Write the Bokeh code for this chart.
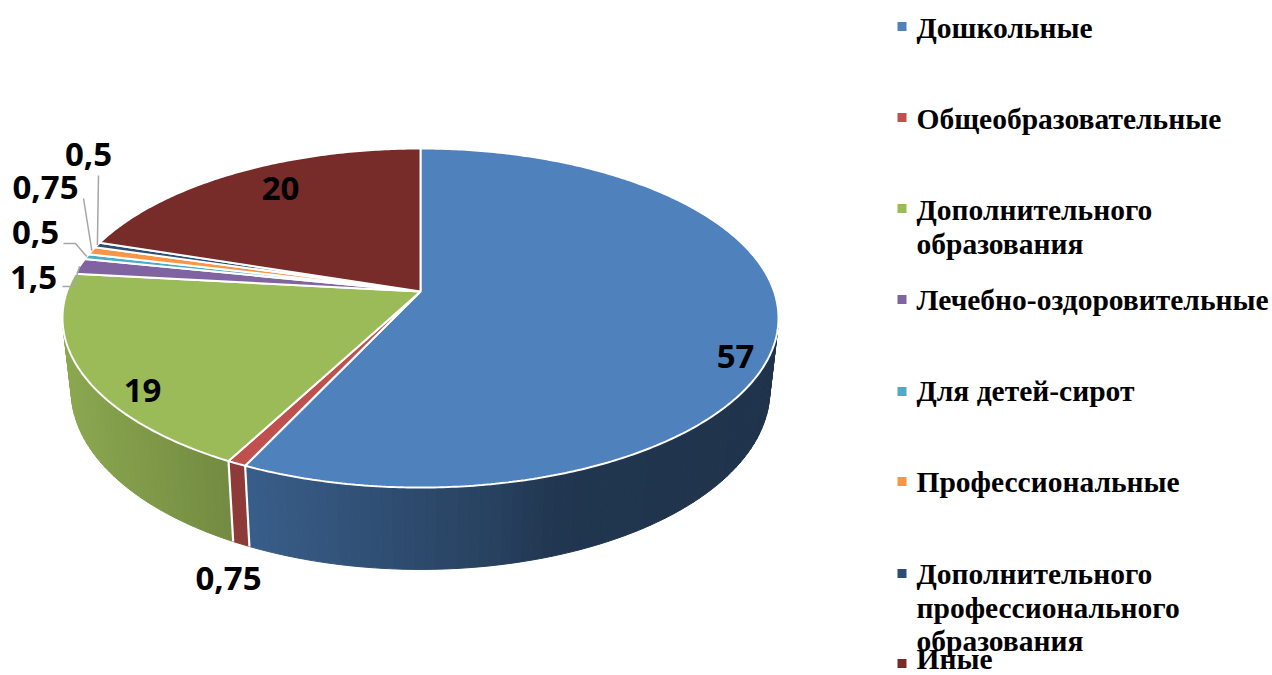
import numpy as np
from bokeh.plotting import figure
from bokeh.models import Range1d
from bokeh.core.properties import value
from bokeh.embed import file_html
from bokeh.resources import INLINE

categories = ["Дошкольные", "Общеобразовательные", "Дополнительного образования",
              "Лечебно-оздоровительные", "Для детей-сирот", "Профессиональные",
              "Дополнительного профессионального образования", "Иные"]
values = [57, 0.75, 19, 1.5, 0.5, 0.75, 0.5, 20]
value_labels = ["57", "0,75", "19", "1,5", "0,5", "0,75", "0,5", "20"]
colors = ["#4F81BD", "#C0504D", "#9BBB59", "#8064A2", "#4BACC6", "#F79646", "#2C4D75", "#772C2A"]
legend_lines = [["Дошкольные"], ["Общеобразовательные"], ["Дополнительного", "образования"],
                ["Лечебно-оздоровительные"], ["Для детей-сирот"], ["Профессиональные"],
                ["Дополнительного", "профессионального", "образования"], ["Иные"]]
legend_marker_y = [26, 117, 208, 299, 391, 481, 573, 663]
legend_text_y = [[27], [118], [209, 243], [299], [390], [481], [573, 607, 640], [658]]
label_x = [735, 228, 142, 33, 35, 45, 88, 280]
label_y = [356, 578, 390, 277, 232, 187, 154, 188]

# perspective projection of the two discs of the pie
CX, C = 420.0, 0.1563
def top(t):
    u, v = np.sin(t), np.cos(t)
    d = 1 + C * v
    return CX + 353.6 * u / d, (-119.9 * v + 291) / d
def bot(t):
    u, v = np.sin(t), np.cos(t)
    d = 1 + C * v
    return CX + 345.0 * u / d, (-118.0 * v + 362) / d
def shade(x):
    return np.interp(x, [65, 232, 250, 500, 560, 780], [0.90, 0.74, 0.73, 0.50, 0.42, 0.40])
def hex_scaled(h, f):
    r, g, b = int(h[1:3], 16), int(h[3:5], 16), int(h[5:7], 16)
    return "#%02x%02x%02x" % (int(r * f), int(g * f), int(b * f))

p = figure(width=1272, height=675, output_backend="svg", toolbar_location=None,
           x_range=Range1d(0, 1272), y_range=Range1d(675, 0), min_border=0,
           background_fill_color="white", border_fill_color="white", outline_line_color=None)
p.axis.visible = False
p.grid.visible = False

edges = np.radians(np.concatenate([[0], np.cumsum(values)]) * 3.6)

# side wall
wx, wy, wc = [], [], []
sep_x, sep_y = [], []
lo, hi = np.radians(96), np.radians(264)
for i, col in enumerate(colors):
    a, b = max(edges[i], lo), min(edges[i + 1], hi)
    if b <= a:
        continue
    n = max(1, int(np.degrees(b - a) / 1.5))
    ts = np.linspace(a, b, n + 1)
    for t0, t1 in zip(ts[:-1], ts[1:]):
        x0, y0 = top(t0); x1, y1 = top(t1)
        x2, y2 = bot(t1); x3, y3 = bot(t0)
        wx.append([x0, x1, x2, x3]); wy.append([y0, y1, y2, y3])
        wc.append(hex_scaled(col, float(shade((x0 + x1 + x2 + x3) / 4))))
p.patches(wx, wy, fill_color=wc, line_color=wc, line_width=1)
for e in edges[1:3]:
    x0, y0 = top(e); x1, y1 = bot(e)
    sep_x.append([x0, x1]); sep_y.append([y0, y1])
p.multi_line(sep_x, sep_y, line_color="white", line_width=2.2)

# top face
sx, sy = [], []
for i in range(len(values)):
    ts = np.linspace(edges[i], edges[i + 1], max(3, int(values[i] * 6)))
    x, y = top(ts)
    sx.append([CX] + list(x)); sy.append([291.0] + list(y))
p.patches(sx, sy, fill_color=colors, line_color="white", line_width=2)

# leader lines: label elbow, then to the rim at the middle of the slice
elbows = {3: [(62, 286), (73, 286)], 4: [(63, 243), (75, 243)], 5: [(83, 198)], 6: [(98, 175)]}
for i, pts in elbows.items():
    mx, my = top((edges[i] + edges[i + 1]) / 2)
    xs = [q[0] for q in pts] + [float(mx)]
    ys = [q[1] for q in pts] + [float(my)]
    p.line(xs, ys, line_color="#A6A6A6", line_width=1.5)

p.text(label_x, label_y, text=value_labels, text_font=value("Open Sans"), text_font_style="bold",
       text_font_size="33px", text_color="black", text_align="center", text_baseline="middle")

# legend
p.scatter([901.5] * len(colors), legend_marker_y, marker="square", size=9,
          fill_color=colors, line_color=None)
lx, ly, lt = [], [], []
for lines, ys in zip(legend_lines, legend_text_y):
    for s, y in zip(lines, ys):
        lx.append(916); ly.append(y); lt.append(s)
p.text(lx, ly, text=lt, text_font=value("Liberation Serif"), text_font_style="bold",
       text_font_size="29.5px", text_color="black", text_align="left", text_baseline="middle")

open("out.html", "w").write(file_html(p, INLINE))
